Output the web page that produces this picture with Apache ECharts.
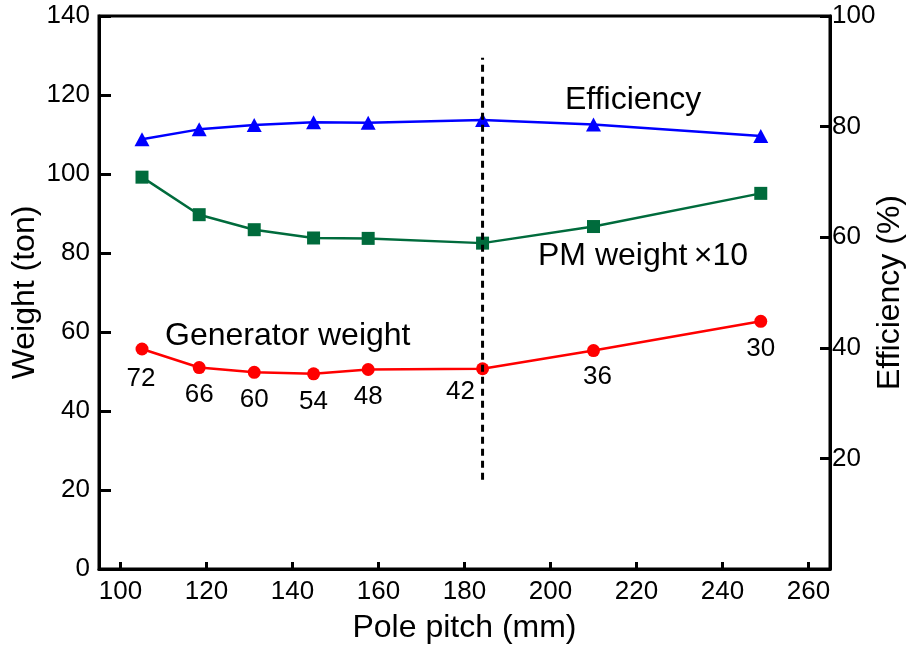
<!DOCTYPE html>
<html>
<head>
<meta charset="utf-8">
<script src="https://cdn.jsdelivr.net/npm/echarts@6/dist/echarts.min.js"></script>
<style>html,body{margin:0;padding:0;background:#fff}#c{width:912px;height:650px}</style>
</head>
<body>
<div id="c"></div>
<script>
// Data
var poles = [72, 66, 60, 54, 48, 42, 36, 30];
var polePitch = [105, 118.3, 131.1, 144.9, 157.6, 184.2, 210, 248.9];
var generatorWeight = [55.7, 51.0, 49.8, 49.4, 50.5, 50.7, 55.3, 62.7];
var pmWeightX10 = [99.2, 89.7, 85.9, 83.8, 83.7, 82.5, 86.7, 95.1];
var efficiency = [77.7, 79.5, 80.3, 80.8, 80.7, 81.2, 80.4, 78.3];
var xTicks = [100, 120, 140, 160, 180, 200, 220, 240, 260];
var leftTicks = [0, 20, 40, 60, 80, 100, 120, 140];
var rightTicks = [20, 40, 60, 80, 100];
var optimumX = [184.2, 184.2];
var optimumY = [22.6, 129.4];

var FONT = 'Liberation Sans';
var labelOffsets = [[-1, 2], [0, 0], [0, 0], [0, 0], [0, 0], [-22, -4], [4, -1], [0, 0]];

function pairs(xs, ys) { return xs.map(function (x, i) { return [x, ys[i]]; }); }

var chart = echarts.init(document.getElementById('c'), null, { renderer: 'canvas' });
chart.setOption({
  animation: false,
  backgroundColor: '#fff',
  grid: { left: 99, right: 82, top: 16, bottom: 81, containLabel: false, outerBoundsMode: 'none', show: true, borderColor: '#000', borderWidth: 3, backgroundColor: 'transparent' },
  xAxis: {
    type: 'value', min: 95, max: 265,
    name: 'Pole pitch (mm)', nameLocation: 'middle', nameGap: 43,
    nameTextStyle: { fontFamily: FONT, fontSize: 32, color: '#000' },
    axisLine: { show: true, lineStyle: { color: '#000', width: 3 } },
    axisTick: { show: true, inside: true, length: 7, lineStyle: { color: '#000', width: 3 }, customValues: xTicks },
    axisLabel: { fontFamily: FONT, fontSize: 26, color: '#000', margin: 10, customValues: xTicks },
    splitLine: { show: false }
  },
  yAxis: [{
    type: 'value', min: 0, max: 140,
    position: 'left',
    name: 'Weight (ton)', nameLocation: 'middle', nameGap: 58, nameRotate: 90, nameMoveOverlap: false,
    nameTextStyle: { fontFamily: FONT, fontSize: 32, color: '#000' },
    axisLine: { show: true, lineStyle: { color: '#000', width: 3 } },
    axisTick: { show: true, inside: true, length: 12, lineStyle: { color: '#000', width: 3 }, customValues: leftTicks },
    axisLabel: { fontFamily: FONT, fontSize: 26, color: '#000', margin: 9, customValues: leftTicks },
    splitLine: { show: false }
  }, {
    type: 'value', min: 0, max: 100,
    position: 'right',
    name: 'Efficiency (%)', nameLocation: 'middle', nameGap: 44, nameRotate: 90, nameMoveOverlap: false,
    nameTextStyle: { fontFamily: FONT, fontSize: 32, color: '#000' },
    axisLine: { show: true, lineStyle: { color: '#000', width: 3 } },
    axisTick: { show: true, inside: true, length: 10, lineStyle: { color: '#000', width: 3 }, customValues: rightTicks },
    axisLabel: { fontFamily: FONT, fontSize: 26, color: '#000', margin: 2, customValues: rightTicks },
    splitLine: { show: false }
  }],
  series: [{
    name: 'Efficiency', type: 'line', yAxisIndex: 1,
    data: pairs(polePitch, efficiency),
    symbol: 'triangle', symbolSize: [15, 14],
    lineStyle: { color: '#0000ff', width: 2.5 },
    itemStyle: { color: '#0000ff' }
  }, {
    name: 'PM weight x10', type: 'line', yAxisIndex: 0,
    data: pairs(polePitch, pmWeightX10),
    symbol: 'rect', symbolSize: 13,
    lineStyle: { color: '#006b3c', width: 2.5 },
    itemStyle: { color: '#006b3c' }
  }, {
    name: 'Generator weight', type: 'line', yAxisIndex: 0,
    data: polePitch.map(function (x, i) {
      return { value: [x, generatorWeight[i]], label: { offset: labelOffsets[i] } };
    }),
    symbol: 'circle', symbolSize: 13,
    lineStyle: { color: '#ff0000', width: 2.5 },
    itemStyle: { color: '#ff0000' },
    label: {
      show: true, position: 'bottom', distance: 8,
      fontFamily: FONT, fontSize: 26, color: '#000',
      formatter: function (p) { return String(poles[p.dataIndex]); }
    }
  }, {
    name: 'optimum', type: 'line', yAxisIndex: 0, z: 5,
    data: pairs(optimumX, optimumY),
    symbol: 'none',
    lineStyle: { color: '#000', width: 3, type: [7, 5] }
  }],
  graphic: [
    { type: 'text', left: 565, top: 84, z: 10, style: { text: 'Efficiency', font: '32px "Liberation Sans"', fill: '#000' } },
    { type: 'text', left: 538, top: 240, z: 10, style: { text: 'PM weight\u2009\u00d710', font: '32px "Liberation Sans"', fill: '#000' } },
    { type: 'text', left: 165, top: 320, z: 10, style: { text: 'Generator weight', font: '32px "Liberation Sans"', fill: '#000' } }
  ]
});
</script>
</body>
</html>
